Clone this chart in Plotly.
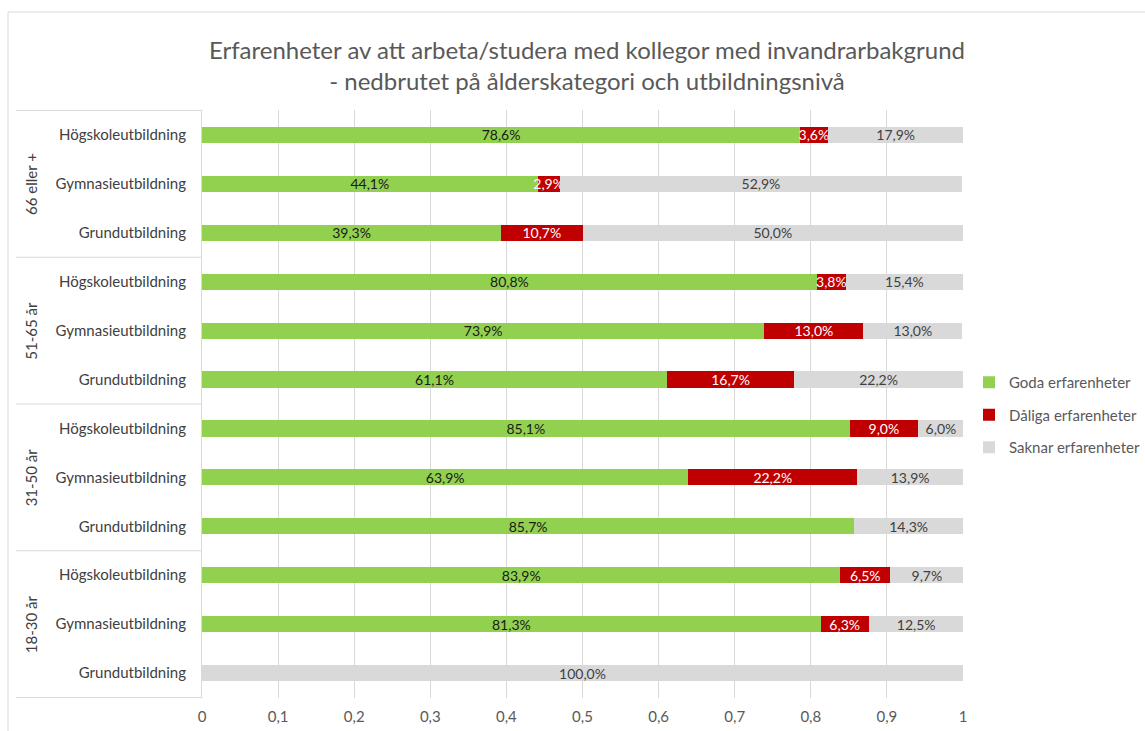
import plotly.graph_objects as go

age_groups = ["66 eller +", "51-65 år", "31-50 år", "18-30 år"]
education = ["Högskoleutbildning", "Gymnasieutbildning", "Grundutbildning"]

# values per row, ordered top to bottom (age group x education)
goda = [0.786, 0.441, 0.393,
        0.808, 0.739, 0.611,
        0.851, 0.639, 0.857,
        0.839, 0.813, 0.0]
daliga = [0.036, 0.029, 0.107,
          0.038, 0.130, 0.167,
          0.090, 0.222, 0.0,
          0.065, 0.063, 0.0]
saknar = [0.179, 0.529, 0.500,
          0.154, 0.130, 0.222,
          0.060, 0.139, 0.143,
          0.097, 0.125, 1.000]

series_names = ["Goda erfarenheter", "Dåliga erfarenheter", "Saknar erfarenheter"]
colors = ["#92D050", "#C00000", "#D9D9D9"]
text_colors = ["#1A1A1A", "#FFFFFF", "#404040"]

x_ticks = [0, 0.1, 0.2, 0.3, 0.4, 0.5, 0.6, 0.7, 0.8, 0.9, 1]

cats = [f"{a}|{e}" for a in age_groups for e in education]
ticktext = [e for a in age_groups for e in education]

FONT = "Lato"
L, R, T, B = 202, 182, 110, 33
W, H = 1145, 731
pw, ph = W - L - R, H - T - B


def fmt(v):
    return (f"{v * 100:.1f}%").replace(".", ",") if v > 0 else ""


fig = go.Figure()
for name, vals, col, tcol in zip(series_names, [goda, daliga, saknar], colors, text_colors):
    fig.add_trace(go.Bar(
        y=cats, x=vals, orientation="h", name=name,
        marker=dict(color=col, line=dict(width=0)),
        text=[fmt(v) for v in vals], textposition="inside",
        insidetextanchor="middle", textangle=0, constraintext="none",
        textfont=dict(color=tcol, size=14, family=FONT),
        legendgroup=name, hoverinfo="x+y",
    ))

shapes = []
# outer chart border
shapes.append(dict(type="rect", xref="paper", yref="paper",
                   x0=(8 - L) / pw, x1=(W + 10 - L) / pw,
                   y0=-(B + 10) / ph, y1=(H - B - 12) / ph,
                   line=dict(color="#D9D9D9", width=1), layer="below"))
# group dividers on the category axis
for b in [-0.5, 2.5, 5.5, 8.5, 11.5]:
    shapes.append(dict(type="line", xref="paper", yref="y",
                       x0=(16 - L) / pw, x1=0, y0=b, y1=b,
                       line=dict(color="#D9D9D9", width=1)))

annotations = []
for i, a in enumerate(age_groups):
    annotations.append(dict(
        x=(31 - L) / pw, xref="paper", y=cats[i * 3 + 1], yref="y",
        text=a, textangle=-90, showarrow=False,
        font=dict(size=15, color="#404040", family=FONT),
        xanchor="center", yanchor="middle"))

fig.update_layout(
    width=W, height=H,
    margin=dict(l=L, r=R, t=T, b=B, autoexpand=False),
    barmode="stack", bargap=0.67,
    separators=", ",
    paper_bgcolor="white", plot_bgcolor="white",
    font=dict(family=FONT, color="#595959", size=14),
    title=dict(
        text="Erfarenheter av att arbeta/studera med kollegor med invandrarbakgrund<br>- nedbrutet på ålderskategori och utbildningsnivå",
        x=587 / W, xref="container", xanchor="center",
        y=1 - 59 / H, yref="container", yanchor="middle",
        font=dict(size=24, color="#595959", family=FONT)),
    xaxis=dict(range=[0, 1], tickvals=x_ticks, showgrid=True, gridcolor="#D9D9D9",
               gridwidth=1, zeroline=False, showline=False, ticks="",
               ticklabelstandoff=8,
               tickfont=dict(size=15, color="#595959")),
    yaxis=dict(type="category", categoryorder="array", categoryarray=cats,
               autorange="reversed", tickvals=cats, ticktext=ticktext,
               showline=True, linecolor="#D9D9D9", linewidth=1, ticks="",
               ticklabelstandoff=12, showgrid=False,
               tickfont=dict(size=15, color="#404040")),
    legend=dict(x=969 / W, xref="container", xanchor="left",
                y=(H - B - 415) / ph, yanchor="middle",
                traceorder="grouped", tracegroupgap=10,
                font=dict(size=15, color="#595959", family=FONT)),
    shapes=shapes, annotations=annotations,
)

fig.write_html("out.html", config={"displayModeBar": False},
               post_script="document.body.style.margin='0px';")
